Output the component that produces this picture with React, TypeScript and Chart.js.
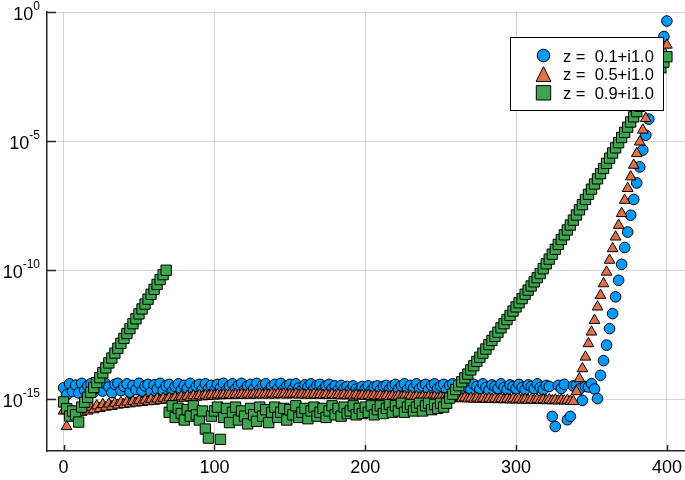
import React, { useEffect, useRef } from "react";
import { Chart, registerables } from "chart.js";

Chart.register(...registerables);

// ---- data -------------------------------------------------------------
// samples are taken at n = 0, 2, 4, ... , 400
const X_STEP = 2;
const xTickValues = [0, 100, 200, 300, 400];
const yTickExponents = [-15, -10, -5, 0];
const seriesLabels = ["z =  0.1+i1.0", "z =  0.5+i1.0", "z =  0.9+i1.0"];

// log10 of the plotted values (rows of 10 samples = 20 units of n)
const blueLog10 = [
  -14.55, -14.82, -14.4, -14.7, -14.45, -14.75, -14.38, -14.65, -14.48, -14.4,
  -14.72, -14.38, -14.6, -14.68, -14.4, -14.52, -14.74, -14.42, -14.38, -14.66,
  -14.5, -14.4, -14.72, -14.46, -14.62, -14.38, -14.68, -14.48, -14.42, -14.72,
  -14.44, -14.6, -14.38, -14.66, -14.48, -14.42, -14.7, -14.5, -14.4, -14.64,
  -14.46, -14.58, -14.38, -14.68, -14.5, -14.42, -14.62, -14.4, -14.6, -14.46,
  -14.66, -14.42, -14.56, -14.38, -14.64, -14.48, -14.4, -14.6, -14.46, -14.38,
  -14.64, -14.48, -14.42, -14.6, -14.38, -14.62, -14.46, -14.4, -14.66, -14.5,
  -14.42, -14.6, -14.38, -14.62, -14.48, -14.42, -14.6, -14.4, -14.56, -14.64,
  -14.44, -14.52, -14.4, -14.6, -14.46, -14.42, -14.62, -14.48, -14.42, -14.58,
  -14.48, -14.64, -14.46, -14.58, -14.5, -14.64, -14.48, -14.6, -14.66, -14.5,
  -14.6, -14.48, -14.66, -14.52, -14.48, -14.64, -14.5, -14.46, -14.62, -14.48,
  -14.42, -14.6, -14.48, -14.4, -14.62, -14.46, -14.56, -14.4, -14.6, -14.48,
  -14.42, -14.62, -14.46, -14.4, -14.58, -14.48, -14.42, -14.62, -14.46, -14.4,
  -14.58, -14.48, -14.64, -14.44, -14.54, -14.62, -14.42, -14.5, -14.6, -14.4,
  -14.54, -14.64, -14.44, -14.5, -14.58, -14.4, -14.54, -14.62, -14.44, -14.5,
  -14.58, -14.42, -14.54, -14.62, -14.44, -14.5, -14.58, -14.4, -14.54, -14.62,
  -14.46, -14.5, -15.66, -16.05, -14.46, -14.58, -14.42, -15.79, -15.66, -14.48,
  -14.45, -14.6, -15.04, -14.5, -14.52, -14.39, -14.6, -14.97, -14.07, -13.5,
  -12.9, -12.26, -11.68, -11.03, -10.39, -9.77, -9.12, -8.52, -7.87, -7.26,
  -6.62, -6.0, -5.35, -4.77, -4.15, -3.55, -2.95, -2.3, -1.65, -0.95,
  -0.35,
];

const orangeLog10 = [
  -15.45, -16.05, -15.55, -15.45, -15.5, -15.4, -15.5, -15.35, -15.45, -15.3,
  -15.4, -15.25, -15.35, -15.2, -15.3, -15.18, -15.27, -15.15, -15.22, -15.12,
  -15.2, -15.1, -15.17, -15.08, -15.14, -15.05, -15.12, -15.03, -15.09, -15.0,
  -15.07, -14.98, -15.04, -14.96, -15.02, -14.94, -15.0, -14.92, -14.97, -14.9,
  -14.95, -14.88, -14.93, -14.86, -14.91, -14.85, -14.9, -14.84, -14.88, -14.83,
  -14.87, -14.82, -14.86, -14.82, -14.85, -14.81, -14.85, -14.81, -14.84, -14.8,
  -14.84, -14.8, -14.84, -14.8, -14.83, -14.79, -14.83, -14.8, -14.83, -14.79,
  -14.83, -14.79, -14.82, -14.79, -14.83, -14.8, -14.82, -14.79, -14.83, -14.8,
  -14.83, -14.8, -14.84, -14.8, -14.83, -14.81, -14.84, -14.81, -14.85, -14.81,
  -14.85, -14.82, -14.86, -14.82, -14.86, -14.83, -14.87, -14.83, -14.87, -14.84,
  -14.88, -14.84, -14.88, -14.85, -14.89, -14.85, -14.9, -14.86, -14.9, -14.87,
  -14.91, -14.87, -14.91, -14.88, -14.92, -14.88, -14.93, -14.89, -14.93, -14.9,
  -14.94, -14.9, -14.94, -14.91, -14.95, -14.92, -14.96, -14.92, -14.96, -14.93,
  -14.97, -14.93, -14.97, -14.94, -14.98, -14.95, -14.99, -14.95, -14.99, -14.96,
  -15.0, -14.96, -15.0, -14.97, -15.01, -14.97, -15.01, -14.98, -15.02, -14.98,
  -15.02, -14.99, -15.03, -14.99, -15.03, -15.0, -15.04, -15.0, -15.04, -15.01,
  -15.05, -15.01, -15.05, -15.02, -15.06, -15.02, -15.06, -15.03, -15.07, -15.08,
  -14.7, -14.2, -13.81, -13.36, -12.84, -12.39, -11.94, -11.42, -10.97, -10.52,
  -10.07, -9.61, -9.16, -8.71, -8.26, -7.8, -7.29, -6.83, -6.38, -5.93,
  -5.48, -5.03, -4.57, -4.12, -3.67, -3.22, -2.77, -2.32, -1.87, -1.55,
  -1.28,
];

const greenLog10 = [
  -15.1, -15.36, -15.65, -15.45, -15.6, -15.88, -15.3, -15.11, -14.92, -14.73,
  -14.54, -14.35, -14.16, -13.97, -13.78, -13.59, -13.4, -13.21, -13.02, -12.83,
  -12.64, -12.45, -12.26, -12.07, -11.88, -11.69, -11.5, -11.31, -11.12, -10.93,
  -10.74, -10.55, -10.36, -10.17, -10.0, -15.5, -15.25, -15.7, -15.35, -15.55,
  -15.8, -15.4, -15.65, -15.25, -15.6, -15.8, -15.45, -16.15, -16.5, -15.65,
  -15.45, -15.3, -16.55, -15.7, -15.35, -15.9, -15.5, -15.3, -15.8, -15.45,
  -15.65, -15.95, -15.35, -15.6, -15.85, -15.3, -15.65, -15.4, -15.9, -15.5,
  -15.3, -15.7, -15.5, -15.35, -15.8, -15.4, -15.6, -15.25, -15.7, -15.5,
  -15.35, -15.75, -15.45, -15.3, -15.65, -15.5, -15.35, -15.7, -15.45, -15.25,
  -15.6, -15.35, -15.65, -15.3, -15.55, -15.45, -15.25, -15.6, -15.35, -15.55,
  -15.3, -15.5, -15.25, -15.6, -15.4, -15.25, -15.55, -15.35, -15.2, -15.5,
  -15.25, -15.45, -15.15, -15.5, -15.3, -15.2, -15.45, -15.3, -15.15, -15.45,
  -15.25, -15.15, -15.4, -15.2, -15.35, -15.15, -15.3, -15.15, -14.95, -14.8,
  -14.62, -14.47, -14.32, -14.17, -14.02, -13.86, -13.7, -13.53, -13.37, -13.21,
  -13.05, -12.88, -12.72, -12.56, -12.4, -12.23, -12.07, -11.91, -11.75, -11.58,
  -11.42, -11.26, -11.1, -10.93, -10.77, -10.61, -10.45, -10.29, -10.13, -9.94,
  -9.75, -9.57, -9.38, -9.19, -9.0, -8.81, -8.63, -8.44, -8.25, -8.06,
  -7.86, -7.66, -7.46, -7.26, -7.06, -6.86, -6.66, -6.46, -6.26, -6.06,
  -5.86, -5.66, -5.46, -5.26, -5.06, -4.86, -4.66, -4.46, -4.26, -4.06,
  -3.86, -3.65, -3.43, -3.22, -3.01, -2.8, -2.58, -2.37, -2.16, -1.94,
  -1.73,
];

// ---- style --------------------------------------------------------------
const FONT = '"Liberation Sans", Arial, Helvetica, sans-serif';
const COLORS = ["#009AFA", "#E36F47", "#3EA44E"];
const STYLES = ["circle", "triangle", "rect"];
const RADII = [5.3, 6.2, 7.3];
const GRID = "rgba(0,0,0,0.16)";
const AXIS = "#262626";

const toPoints = (logs: number[]) =>
  logs.map((l, i) => ({ x: i * X_STEP, y: Math.pow(10, l) }));

const decorPlugin = {
  id: "decor",
  afterDraw(chart: any) {
    const { ctx, chartArea: ca, scales } = chart;
    const xs = scales.x;
    const ys = scales.y;
    ctx.save();

    // inward tick marks
    ctx.strokeStyle = AXIS;
    ctx.lineWidth = 1.5;
    ctx.beginPath();
    for (const e of yTickExponents) {
      const py = Math.round(ys.getPixelForValue(Math.pow(10, e))) + 0.5;
      ctx.moveTo(ca.left, py);
      ctx.lineTo(ca.left + 9, py);
    }
    for (const v of xTickValues) {
      const px = Math.round(xs.getPixelForValue(v)) + 0.5;
      ctx.moveTo(px, ca.bottom);
      ctx.lineTo(px, ca.bottom - 6);
    }
    ctx.stroke();

    // x tick labels
    ctx.fillStyle = "#000";
    ctx.font = `18px ${FONT}`;
    ctx.textAlign = "center";
    ctx.textBaseline = "alphabetic";
    for (const v of xTickValues) {
      ctx.fillText(String(v), xs.getPixelForValue(v), ca.bottom + 22);
    }

    // y tick labels: 10 with raised exponent
    ctx.textAlign = "left";
    for (const e of yTickExponents) {
      const py = ys.getPixelForValue(Math.pow(10, e));
      const es = String(e);
      ctx.font = `18px ${FONT}`;
      const wb = ctx.measureText("10").width;
      ctx.font = `12px ${FONT}`;
      const we = ctx.measureText(es).width;
      const right = ca.left - 7;
      ctx.font = `18px ${FONT}`;
      ctx.fillText("10", right - we - wb, py + 7.5);
      ctx.font = `12px ${FONT}`;
      ctx.fillText(es, right - we, py - 2);
    }

    // legend box
    const bx = 510.5, by = 37.5, bw = 153, bh = 73;
    ctx.fillStyle = "#fff";
    ctx.fillRect(bx, by, bw, bh);
    ctx.strokeStyle = "#000";
    ctx.lineWidth = 1;
    ctx.strokeRect(bx, by, bw, bh);
    const rowY = [55.5, 74.2, 92.8];
    const mx = 543.5;
    for (let i = 0; i < seriesLabels.length; i++) {
      const cy = rowY[i];
      ctx.fillStyle = COLORS[i];
      ctx.strokeStyle = "#000";
      ctx.lineWidth = 1;
      ctx.beginPath();
      if (STYLES[i] === "circle") {
        ctx.arc(mx, cy, 6.3, 0, Math.PI * 2);
      } else if (STYLES[i] === "triangle") {
        ctx.moveTo(mx, cy - 7.5);
        ctx.lineTo(mx + 7.4, cy + 7.3);
        ctx.lineTo(mx - 7.4, cy + 7.3);
        ctx.closePath();
      } else {
        ctx.rect(mx - 7.2, cy - 7.2, 14.4, 14.4);
      }
      ctx.fill();
      ctx.stroke();
      ctx.fillStyle = "#000";
      ctx.font = `16.5px ${FONT}`;
      ctx.textAlign = "left";
      ctx.fillText(seriesLabels[i], 563, cy + 6);
    }
    ctx.restore();
  },
};

export default function App() {
  const canvasRef = useRef<HTMLCanvasElement | null>(null);

  useEffect(() => {
    if (!canvasRef.current) return;
    const series = [blueLog10, orangeLog10, greenLog10];
    const datasets = series.map((logs, i) => ({
      label: seriesLabels[i],
      data: toPoints(logs),
      showLine: false,
      order: 3 - i,
      pointStyle: STYLES[i] as any,
      pointRadius: RADII[i],
      pointHoverRadius: RADII[i],
      pointBackgroundColor: COLORS[i],
      pointBorderColor: "#000",
      pointBorderWidth: 1,
      backgroundColor: COLORS[i],
      borderColor: "#000",
    }));

    const chart = new Chart(canvasRef.current, {
      type: "scatter",
      data: { datasets },
      options: {
        animation: false,
        responsive: false,
        maintainAspectRatio: false,
        layout: {
          autoPadding: false,
          padding: { top: 12, right: 0, left: 0, bottom: 0 },
        },
        plugins: { legend: { display: false }, tooltip: { enabled: false } },
        scales: {
          x: {
            type: "linear",
            min: -11,
            max: 412,
            afterBuildTicks: (s: any) => {
              s.ticks = xTickValues.map((v) => ({ value: v }));
            },
            afterFit: (s: any) => {
              s.height = 29;
            },
            ticks: { display: false },
            grid: { color: GRID, lineWidth: 1, drawTicks: false },
            border: { display: true, color: AXIS, width: 1.5 },
          },
          y: {
            type: "logarithmic",
            min: 1e-17,
            max: 1,
            afterBuildTicks: (s: any) => {
              s.ticks = yTickExponents.map((e) => ({ value: Math.pow(10, e) }));
            },
            afterFit: (s: any) => {
              s.width = 47;
            },
            ticks: { display: false },
            grid: { color: GRID, lineWidth: 1, drawTicks: false },
            border: { display: true, color: AXIS, width: 1.5 },
          },
        },
      },
      plugins: [decorPlugin],
    } as any);

    return () => chart.destroy();
  }, []);

  return (
    <div
      style={{
        position: "fixed",
        left: 0,
        top: 0,
        width: 685,
        height: 480,
        background: "#fff",
      }}
    >
      <canvas ref={canvasRef} width={685} height={480} />
    </div>
  );
}
